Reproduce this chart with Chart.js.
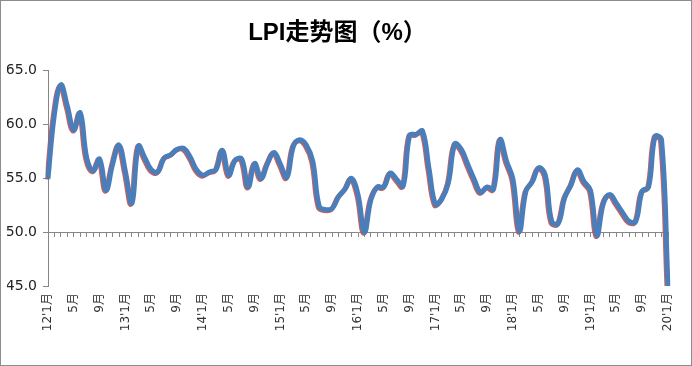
<!DOCTYPE html>
<html>
<head>
<meta charset="utf-8">
<script src="https://cdn.jsdelivr.net/npm/chart.js@4/dist/chart.umd.min.js"></script>
<style>
html, body { margin: 0; padding: 0; background: #fff; }
#wrap { position: absolute; left: 0; top: 0; width: 692px; height: 366px; box-sizing: border-box; border: 1px solid #8c8c8c; }
</style>
</head>
<body>
<div id="wrap"><canvas id="lpiChart"></canvas></div>
<script>
// LPI monthly, 2012-01 .. 2020-01
const lpiValues = [
  55.0, 61.0, 63.7, 61.7, 59.5, 61.1, 56.9, 55.7, 56.8, 53.9, 56.3, 58.1,
  55.6, 52.7, 58.0, 56.9, 55.8, 55.6, 56.9, 57.2, 57.7, 57.8, 57.0, 55.8,
  55.3, 55.6, 55.8, 57.6, 55.3, 56.7, 56.8, 54.2, 56.4, 55.0, 56.4, 57.4,
  56.3, 55.1, 58.0, 58.6, 58.1, 56.6, 52.4, 52.1, 52.2, 53.3, 54.0, 55.0,
  53.5, 50.0, 53.0, 54.2, 54.2, 55.5, 54.9, 54.3, 59.0, 59.1, 59.4, 55.9,
  52.6, 53.1, 54.6, 58.2, 57.7, 56.3, 54.9, 53.7, 54.2, 54.0, 58.6, 56.6,
  54.9, 50.1, 53.8, 54.7, 56.0, 55.3, 51.0, 50.8, 53.2, 54.4, 55.8, 54.7,
  53.9, 49.7, 52.7, 53.5, 52.7, 51.8, 51.0, 51.0, 53.8, 54.2, 58.9, 58.6,
  45.0
];

// labels shown every 4 months
const tickLabels = [
  "12'1月", '5月', '9月', "13'1月", '5月', '9月', "14'1月", '5月', '9月',
  "15'1月", '5月', '9月', "16'1月", '5月', '9月', "17'1月", '5月', '9月',
  "18'1月", '5月', '9月', "19'1月", '5月', '9月', "20'1月"
];

const categories = lpiValues.map((v, i) => (i % 4 === 0 ? tickLabels[i / 4] : ''));

const yTicks = { min: 45, max: 65, step: 5 };

const redEdge = {
  id: 'redEdge',
  beforeDatasetsDraw(chart) {
    const ctx = chart.ctx;
    ctx.save();
    ctx.shadowColor = 'rgba(192,80,77,0.9)';
    ctx.shadowOffsetX = -1;
    ctx.shadowOffsetY = 1;
    ctx.shadowBlur = 0;
  },
  afterDatasetsDraw(chart) {
    chart.ctx.restore();
  }
};

const axisGray = '#868686';

const ctx = document.getElementById('lpiChart').getContext('2d');
const lpiChart = new Chart(ctx, {
  type: 'line',
  data: {
    labels: categories,
    datasets: [{
      label: 'LPI',
      data: lpiValues,
      borderColor: '#4a7ebb',
      borderWidth: 5,
      pointRadius: 0,
      tension: 0.4,
      fill: false
    }]
  },
  options: {
    responsive: true,
    maintainAspectRatio: false,
    animation: false,
    layout: { padding: { left: 6, right: 23, top: 0, bottom: 0 } },
    plugins: {
      legend: { display: false },
      tooltip: { enabled: false },
      title: {
        display: true,
        text: 'LPI走势图（%）',
        color: '#000',
        font: { family: "'Liberation Sans', 'Noto Sans CJK SC', sans-serif", size: 24, weight: 'bold', lineHeight: 1.2 },
        padding: { top: 18, bottom: 23 }
      }
    },
    scales: {
      x: {
        position: 'bottom',
        grid: { display: false, drawTicks: false },
        border: { display: false },
        ticks: {
          autoSkip: false,
          maxRotation: 90,
          minRotation: 90,
          padding: 7,
          color: '#333',
          font: { family: "'DejaVu Sans', 'Noto Sans CJK SC', sans-serif", size: 12 }
        },
        afterFit(s) { s.height = 79; }
      },
      x2: {
        type: 'category',
        position: { y: 50 },
        grid: { display: true, drawOnChartArea: false, drawTicks: true, tickLength: 4, color: axisGray },
        border: { display: true, color: axisGray, width: 1 },
        ticks: { display: false }
      },
      y: {
        min: yTicks.min,
        max: yTicks.max,
        grid: { drawOnChartArea: false, drawTicks: true, tickLength: 5, color: axisGray },
        border: { display: true, color: axisGray },
        ticks: {
          stepSize: yTicks.step,
          padding: 6,
          color: '#222',
          font: { family: "'DejaVu Sans', sans-serif", size: 14 },
          callback: (v) => v.toFixed(1)
        },
        afterFit(s) { s.width = 41; }
      }
    }
  },
  plugins: [redEdge]
});
</script>
</body>
</html>
